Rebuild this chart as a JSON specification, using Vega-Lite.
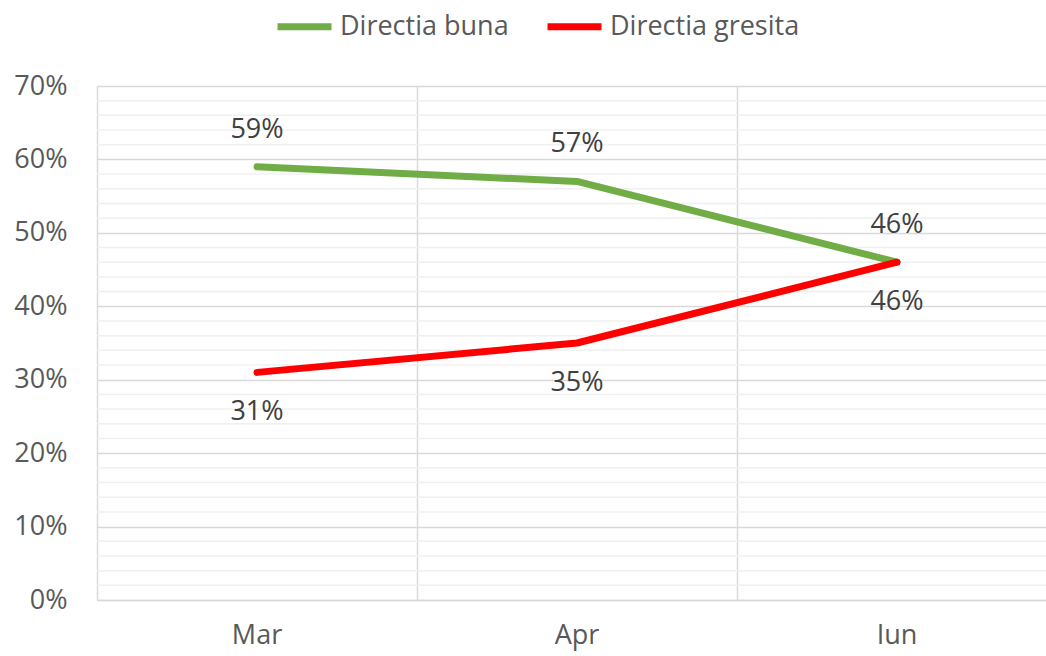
{
  "$schema": "https://vega.github.io/schema/vega-lite/v6.json",
  "autosize": "none",
  "width": 960,
  "height": 514,
  "padding": {"left": 97, "top": 86, "right": 0, "bottom": 56},
  "background": "white",
  "config": {
    "view": {"stroke": null},
    "font": "Open Sans",
    "axis": {"labelFont": "Open Sans", "labelFontSize": 27, "labelColor": "#595959"}
  },
  "datasets": {
    "series": [
      {"month": "Mar", "series": "Directia buna", "value": 0.59},
      {"month": "Apr", "series": "Directia buna", "value": 0.57},
      {"month": "Iun", "series": "Directia buna", "value": 0.46},
      {"month": "Mar", "series": "Directia gresita", "value": 0.31},
      {"month": "Apr", "series": "Directia gresita", "value": 0.35},
      {"month": "Iun", "series": "Directia gresita", "value": 0.46}
    ],
    "minor": [
      {"v": 0.02}, {"v": 0.04}, {"v": 0.06}, {"v": 0.08},
      {"v": 0.12}, {"v": 0.14}, {"v": 0.16}, {"v": 0.18},
      {"v": 0.22}, {"v": 0.24}, {"v": 0.26}, {"v": 0.28},
      {"v": 0.32}, {"v": 0.34}, {"v": 0.36}, {"v": 0.38},
      {"v": 0.42}, {"v": 0.44}, {"v": 0.46}, {"v": 0.48},
      {"v": 0.52}, {"v": 0.54}, {"v": 0.56}, {"v": 0.58},
      {"v": 0.62}, {"v": 0.64}, {"v": 0.66}, {"v": 0.68}
    ]
  },
  "layer": [
    {
      "data": {"name": "minor"},
      "mark": {"type": "rule", "color": "#f0f0f0", "strokeWidth": 1.5},
      "encoding": {
        "y": {
          "field": "v", "type": "quantitative", "title": null, "scale": {"domain": [0, 0.7]},
          "axis": {
            "title": null, "format": ".0%", "values": [0, 0.1, 0.2, 0.3, 0.4, 0.5, 0.6, 0.7],
            "ticks": false, "domain": false, "labelPadding": 30,
            "grid": true, "gridColor": "#d9d9d9", "gridWidth": 1.5
          }
        }
      }
    },
    {
      "data": {"name": "series"},
      "mark": {"type": "line", "strokeWidth": 7, "strokeCap": "round", "strokeJoin": "round"},
      "encoding": {
        "x": {
          "field": "month", "type": "ordinal", "sort": ["Mar", "Apr", "Iun"], "title": null,
          "bandPosition": 0.5,
          "scale": {"type": "band", "paddingInner": 0, "paddingOuter": 0},
          "axis": {
            "title": null, "labelAngle": 0, "bandPosition": 0,
            "ticks": false, "labelPadding": 22, "grid": true, "gridColor": "#d9d9d9", "gridWidth": 1.5,
            "domainColor": "#d9d9d9", "domainWidth": 1.5, "labelAlign": "center"
          }
        },
        "y": {"field": "value", "type": "quantitative", "title": null},
        "color": {
          "field": "series", "type": "nominal",
          "scale": {"domain": ["Directia buna", "Directia gresita"], "range": ["#70AD47", "#FF0000"]},
          "legend": {
            "title": null, "orient": "none", "direction": "horizontal",
            "legendX": 177, "legendY": -90,
            "symbolType": "stroke", "symbolSize": 2916, "symbolStrokeWidth": 7,
            "labelFont": "Open Sans", "labelFontSize": 27, "labelColor": "#595959",
            "labelLimit": 400, "labelOffset": 5, "columnPadding": 24
          }
        }
      }
    },
    {
      "data": {"name": "series"},
      "transform": [{"filter": "datum.series == 'Directia buna'"}],
      "mark": {"type": "text", "dy": -37, "fontSize": 27, "font": "Open Sans", "color": "#404040", "baseline": "middle"},
      "encoding": {
        "x": {"field": "month", "type": "ordinal", "sort": ["Mar", "Apr", "Iun"], "bandPosition": 0.5, "title": null},
        "y": {"field": "value", "type": "quantitative", "title": null},
        "text": {"field": "value", "type": "quantitative", "format": ".0%"}
      }
    },
    {
      "data": {"name": "series"},
      "transform": [{"filter": "datum.series == 'Directia gresita'"}],
      "mark": {"type": "text", "dy": 40, "fontSize": 27, "font": "Open Sans", "color": "#404040", "baseline": "middle"},
      "encoding": {
        "x": {"field": "month", "type": "ordinal", "sort": ["Mar", "Apr", "Iun"], "bandPosition": 0.5, "title": null},
        "y": {"field": "value", "type": "quantitative", "title": null},
        "text": {"field": "value", "type": "quantitative", "format": ".0%"}
      }
    }
  ]
}
